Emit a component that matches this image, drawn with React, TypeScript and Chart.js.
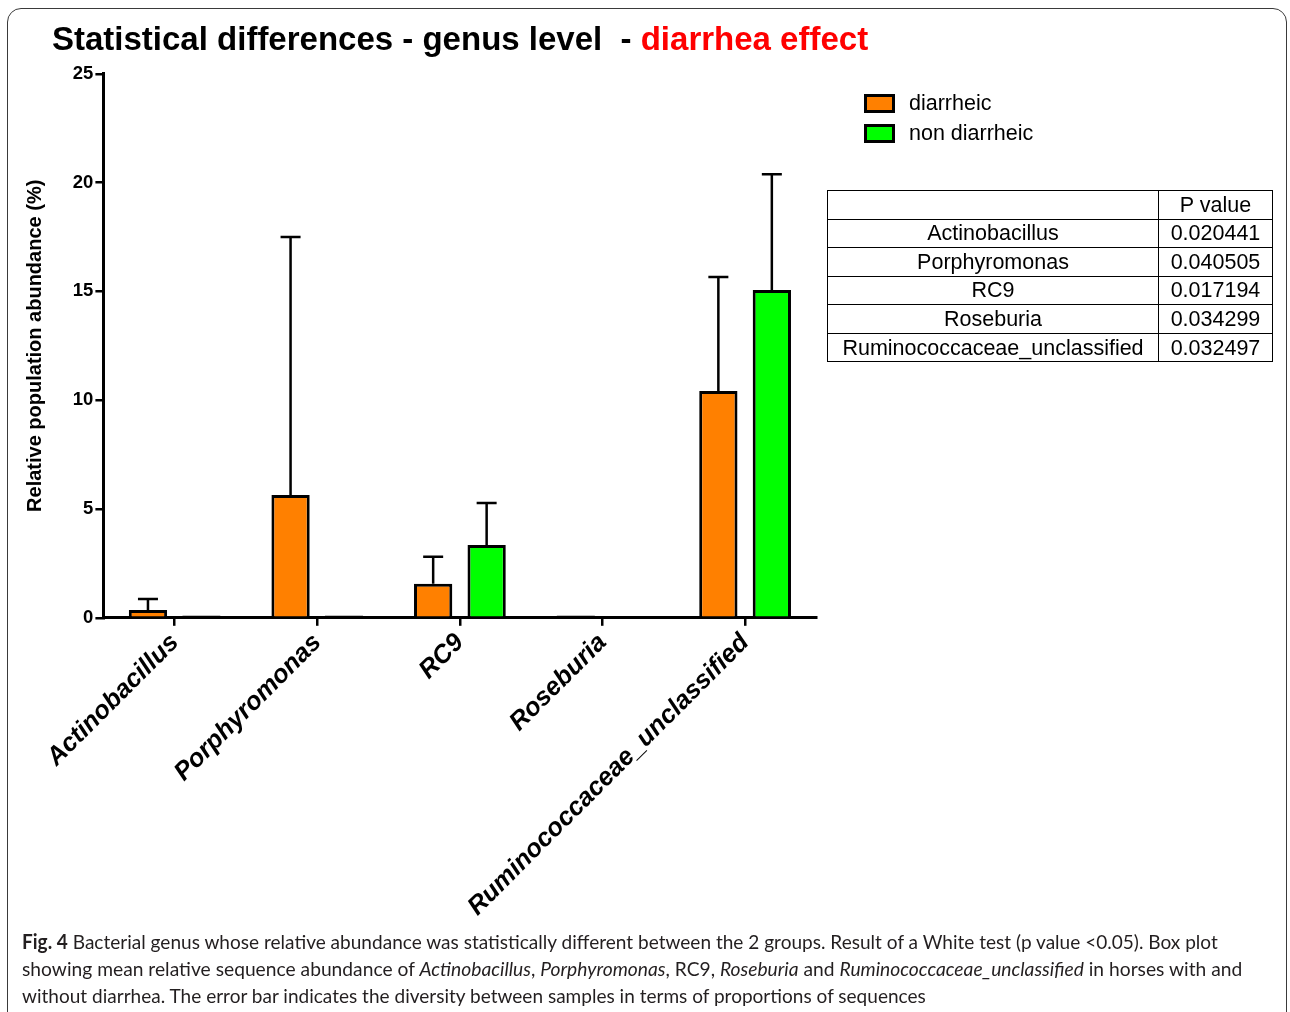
import React, { useEffect, useLayoutEffect, useRef } from "react";
import { Chart, registerables } from "chart.js";

Chart.register(...registerables);

// ---------- data ----------
const categories = ["Actinobacillus", "Porphyromonas", "RC9", "Roseburia", "Ruminococcaceae_unclassified"];
const diarrheicMean = [0.36, 5.64, 1.56, 0.1, 10.42];
const diarrheicErr = [0.5, 11.86, 1.24, 0, 5.24];
const nonDiarrheicMean = [0.1, 0.1, 3.34, 0, 15.06];
const nonDiarrheicErr = [0, 0, 1.93, 0, 5.32];
const yMin = 0;
const yMax = 25;
const yStep = 5;
const seriesLabels = ["diarrheic", "non diarrheic"];
const seriesColors = ["#FF8000", "#00FF00"];
const tableGenera = ["Actinobacillus", "Porphyromonas", "RC9", "Roseburia", "Ruminococcaceae_unclassified"];
const tablePValues = ["0.020441", "0.040505", "0.017194", "0.034299", "0.032497"];

const FONT = "'Liberation Sans', Arial, Helvetica, sans-serif";

const errorBarPlugin = {
  id: "errorBars",
  afterDatasetsDraw(chart: any) {
    const ctx = chart.ctx;
    const yScale = chart.scales.y;
    chart.data.datasets.forEach((ds: any, di: number) => {
      const meta = chart.getDatasetMeta(di);
      meta.data.forEach((bar: any, i: number) => {
        const e = ds.errors[i];
        if (!e) return;
        const v = ds.data[i];
        const yTop = yScale.getPixelForValue(v);
        const yErr = yScale.getPixelForValue(v + e);
        ctx.save();
        ctx.strokeStyle = "#000";
        ctx.lineWidth = 2.5;
        ctx.beginPath();
        ctx.moveTo(bar.x, yTop);
        ctx.lineTo(bar.x, yErr);
        ctx.moveTo(bar.x - 10, yErr);
        ctx.lineTo(bar.x + 10, yErr);
        ctx.stroke();
        ctx.restore();
      });
    });
  },
};

const captionTargets = [1196, 1220, 904];

const skipFor = (c: any) => (c.raw !== undefined && c.raw < 0.2 ? false : "start");

export default function App() {
  const canvasRef = useRef<HTMLCanvasElement | null>(null);
  const lineRefs = useRef<(HTMLDivElement | null)[]>([]);

  useEffect(() => {
    if (!canvasRef.current) return;
    const chart = new Chart(canvasRef.current, {
      type: "bar",
      data: {
        labels: categories,
        datasets: [
          {
            label: seriesLabels[0],
            data: diarrheicMean,
            errors: diarrheicErr,
            backgroundColor: seriesColors[0],
            borderColor: "#000",
            borderWidth: 3,
            borderSkipped: skipFor,
            categoryPercentage: 0.75,
            barPercentage: 0.716,
          } as any,
          {
            label: seriesLabels[1],
            data: nonDiarrheicMean,
            errors: nonDiarrheicErr,
            backgroundColor: seriesColors[1],
            borderColor: "#000",
            borderWidth: 3,
            borderSkipped: skipFor,
            categoryPercentage: 0.75,
            barPercentage: 0.716,
          } as any,
        ],
      },
      options: {
        animation: false,
        responsive: false,
        devicePixelRatio: 1,
        layout: { padding: { left: 0, top: 73.8, right: 1290 - 816.4, bottom: 94.2 } },
        plugins: {
          legend: { display: false },
          tooltip: { enabled: false },
          title: { display: false },
        },
        scales: {
          x: {
            offset: true,
            grid: { display: true, drawOnChartArea: false, drawTicks: true, tickLength: 8, color: "#000", lineWidth: 2.5, offset: false },
            border: { display: true, color: "#000", width: 3 },
            ticks: {
              autoSkip: false,
              maxRotation: 45,
              minRotation: 45,
              padding: 2,
              color: "#000",
              font: { family: FONT, size: 25.5, weight: "bold", style: "italic" },
            },
            afterFit: (s: any) => {
              s.height = 300;
            },
          },
          y: {
            min: yMin,
            max: yMax,
            ticks: { stepSize: yStep, padding: 2, color: "#000", font: { family: FONT, size: 18.5, weight: "bold" } },
            grid: { display: true, drawOnChartArea: false, drawTicks: true, tickLength: 8, color: "#000", lineWidth: 2.5 },
            border: { display: true, color: "#000", width: 3 },
            title: {
              display: true,
              text: "Relative population abundance (%)",
              color: "#000",
              padding: { top: 23, bottom: 0 },
              font: { family: FONT, size: 20, weight: "bold" },
            },
            afterFit: (s: any) => {
              s.width = 103.4;
            },
          },
        },
      } as any,
      plugins: [errorBarPlugin],
    });
    return () => chart.destroy();
  }, []);

  useLayoutEffect(() => {
    const fit = () => {
      lineRefs.current.forEach((el, i) => {
        if (!el) return;
        el.style.transform = "none";
        const w = el.scrollWidth;
        if (w > 0) el.style.transform = `scaleX(${captionTargets[i] / w})`;
      });
    };
    fit();
    if ((document as any).fonts && (document as any).fonts.ready) {
      (document as any).fonts.ready.then(fit);
    }
  }, []);

  const capLine: React.CSSProperties = {
    position: "absolute",
    left: 22,
    whiteSpace: "nowrap",
    transformOrigin: "0 0",
    fontFamily: "Lato, 'Open Sans', sans-serif",
    fontSize: 20,
    lineHeight: "27px",
    color: "#231f20",
    display: "inline-block",
  };

  return (
    <div style={{ position: "fixed", left: 0, top: 0, width: 1290, height: 1012, overflow: "hidden", background: "#fff" }}>
      <div
        style={{
          position: "absolute",
          left: 7,
          top: 8,
          width: 1280,
          height: 1100,
          border: "1.5px solid #3a3a3a",
          borderRadius: 14,
          boxSizing: "border-box",
        }}
      />
      <canvas ref={canvasRef} width={1290} height={1012} style={{ position: "absolute", left: 0, top: 0, display: "block" }} />
      <div
        style={{
          position: "absolute",
          left: 52,
          top: 22,
          fontFamily: FONT,
          fontWeight: "bold",
          fontSize: 33,
          lineHeight: "33px",
          whiteSpace: "nowrap",
          color: "#000",
        }}
      >
        Statistical differences - genus level&nbsp; - <span style={{ color: "#FF0000" }}>diarrhea effect</span>
      </div>

      {seriesLabels.map((lab, i) => (
        <div key={lab} style={{ position: "absolute", left: 864, top: 93 + i * 30, height: 20, display: "flex", alignItems: "center" }}>
          <div
            style={{
              width: 31,
              height: 19,
              boxSizing: "border-box",
              border: "3px solid #000",
              background: seriesColors[i],
            }}
          />
          <span style={{ marginLeft: 14, fontFamily: FONT, fontSize: 21.5, color: "#000", lineHeight: "20px" }}>{lab}</span>
        </div>
      ))}

      <table
        style={{
          position: "absolute",
          left: 827,
          top: 190,
          width: 445,
          borderCollapse: "collapse",
          fontFamily: FONT,
          fontSize: 21.5,
          color: "#000",
          tableLayout: "fixed",
        }}
      >
        <colgroup>
          <col style={{ width: 331 }} />
          <col style={{ width: 114 }} />
        </colgroup>
        <tbody>
          <tr style={{ height: 28.5 }}>
            <td style={{ border: "1.5px solid #000", padding: 0, textAlign: "center" }}></td>
            <td style={{ border: "1.5px solid #000", padding: 0, textAlign: "center", lineHeight: "26px" }}>P value</td>
          </tr>
          {tableGenera.map((g, i) => (
            <tr key={g} style={{ height: 28.6 }}>
              <td style={{ border: "1.5px solid #000", padding: 0, textAlign: "center", lineHeight: "26px" }}>{g}</td>
              <td style={{ border: "1.5px solid #000", padding: 0, textAlign: "center", lineHeight: "26px" }}>{tablePValues[i]}</td>
            </tr>
          ))}
        </tbody>
      </table>

      <div ref={(el) => (lineRefs.current[0] = el)} style={{ ...capLine, top: 928 }}>
        <b>Fig. 4</b> Bacterial genus whose relative abundance was statistically different between the 2 groups. Result of a White test (p value &lt;0.05). Box plot
      </div>
      <div ref={(el) => (lineRefs.current[1] = el)} style={{ ...capLine, top: 955 }}>
        showing mean relative sequence abundance of <i>Actinobacillus</i>, <i>Porphyromonas</i>, RC9, <i>Roseburia</i> and <i>Ruminococcaceae_unclassified</i> in horses with and
      </div>
      <div ref={(el) => (lineRefs.current[2] = el)} style={{ ...capLine, top: 982 }}>
        without diarrhea. The error bar indicates the diversity between samples in terms of proportions of sequences
      </div>
    </div>
  );
}
